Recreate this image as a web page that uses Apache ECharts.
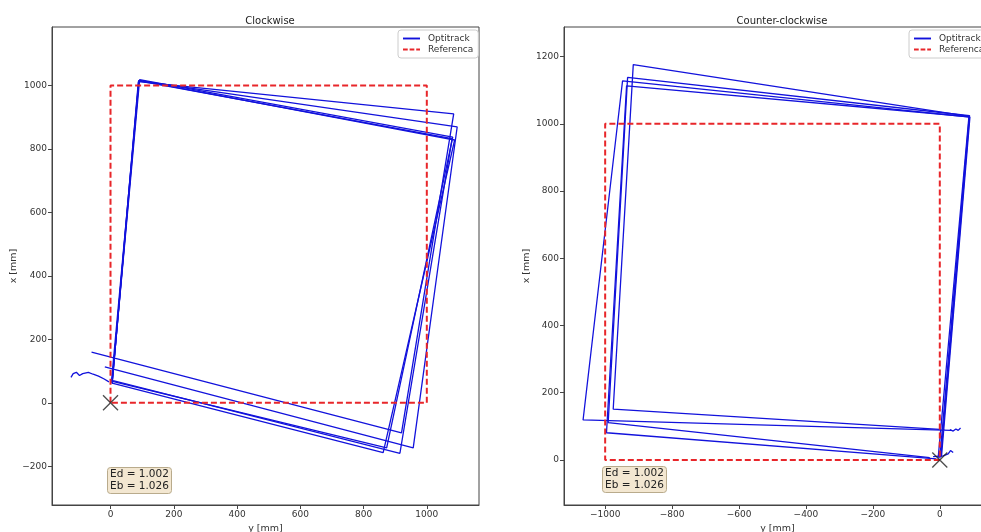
<!DOCTYPE html>
<html>
<head>
<meta charset="utf-8">
<script src="https://cdn.jsdelivr.net/npm/echarts@6/dist/echarts.min.js"></script>
<style>
html, body { margin: 0; padding: 0; background: #fff; }
#chart { width: 981px; height: 532px; }
</style>
</head>
<body>
<div id="chart"></div>
<script>
// points are [y, x] in mm (horizontal = y, vertical = x)
var cwLaps = [
    [[5, 60], [88, 1012], [1085, 910], [920, -95], [-60, 160]],
    [[5, 62], [90, 1015], [1096, 869], [957, -142], [-18, 113]],
    [[5, 65], [92, 1018], [1082, 837], [873, -142], [3, 68]],
    [[3, 68], [90, 1016], [1088, 828], [862, -157], [5, 62]],
    [[5, 62], [89, 1014], [1080, 832], [915, -159], [8, 70]],
    [[-125, 80], [-118, 92], [-108, 96], [-98, 86], [-88, 92], [-70, 96], [-55, 90], [-38, 84], [-20, 75], [-5, 66]]
];
var ccwLaps = [
    [[0, 5], [88, 1022], [-916, 1176], [-976, 151], [0, 91]],
    [[5, 10], [90, 1020], [-948, 1128], [-1066, 119], [35, 88]],
    [[3, 8], [89, 1024], [-933, 1138], [-991, 111], [-30, 7]],
    [[-5, 5], [87, 1021], [-936, 1113], [-996, 81], [-10, 3]],
    [[30, 90], [40, 86], [48, 92], [55, 88], [62, 95]],
    [[-20, 10], [10, 12], [25, 18], [32, 28], [40, 22]]
];
var cwRef = [[0, 0], [0, 1000], [1000, 1000], [1000, 0], [0, 0]];
var ccwRef = [[0, 0], [-1000, 0], [-1000, 1000], [0, 1000], [0, 0]];
var startPoint = [[0, 0]];

var cwXTicks = [0, 200, 400, 600, 800, 1000];
var cwYTicks = [-200, 0, 200, 400, 600, 800, 1000];
var ccwXTicks = [-1000, -800, -600, -400, -200, 0];
var ccwYTicks = [0, 200, 400, 600, 800, 1000, 1200];

var errText = 'Ed = 1.002\nEb = 1.026';

var myChart = echarts.init(document.getElementById('chart'));

function minusFmt(v) {
    return String(v).replace('-', '\u2212');
}

function makeAxis(idx, min, max, ticks, name, isY) {
    return {
        type: 'value',
        gridIndex: idx,
        min: min,
        max: max,
        name: name,
        nameLocation: 'middle',
        nameGap: isY ? 32 : 18,
        nameTextStyle: { color: '#333', fontSize: 9.5, fontFamily: 'DejaVu Sans' },
        axisLine: { show: true, onZero: false, lineStyle: { color: '#444', width: 1 } },
        axisTick: { show: true, length: 4, customValues: ticks, lineStyle: { color: '#444' } },
        axisLabel: {
            show: true,
            margin: 5,
            color: '#333',
            fontSize: 9,
            fontFamily: 'DejaVu Sans',
            customValues: ticks,
            formatter: minusFmt
        },
        splitLine: { show: false }
    };
}

var blue = '#1212dc';
var red = '#e8262a';
var series = [];
function addTrack(laps, idx) {
    for (var i = 0; i < laps.length; i++) {
        series.push({
            name: 'Optitrack',
            type: 'line',
            xAxisIndex: idx,
            yAxisIndex: idx,
            data: laps[i],
            showSymbol: false,
            symbol: 'none',
            z: 2,
            lineStyle: { color: blue, width: 1.3 },
            itemStyle: { color: blue }
        });
    }
}
addTrack(cwLaps, 0);
addTrack(ccwLaps, 1);

[cwRef, ccwRef].forEach(function (ref, idx) {
    series.push({
        name: 'Referenca',
        type: 'line',
        xAxisIndex: idx,
        yAxisIndex: idx,
        data: ref,
        showSymbol: false,
        symbol: 'none',
        z: 3,
        lineStyle: { color: red, width: 2, type: [6, 3] },
        itemStyle: { color: red }
    });
    series.push({
        type: 'scatter',
        xAxisIndex: idx,
        yAxisIndex: idx,
        data: startPoint,
        symbol: 'path://M0,0L10,10M10,0L0,10',
        symbolSize: 15,
        z: 4,
        itemStyle: { color: 'rgba(0,0,0,0)', borderColor: '#222', borderWidth: 1.3 }
    });
});

function legendAt(left) {
    return {
        left: left,
        top: 30,
        orient: 'vertical',
        data: [
            { name: 'Optitrack', icon: 'path://M0,0H18V2H0Z', itemStyle: { color: blue } },
            { name: 'Referenca', icon: 'path://M0,0H5V2H0Z M7,0H12V2H7Z M14,0H18V2H14Z', itemStyle: { color: red } }
        ],
        itemWidth: 17,
        itemHeight: 2,
        itemGap: 2,
        padding: [4, 5],
        backgroundColor: '#fff',
        borderColor: '#ccc',
        borderWidth: 1,
        borderRadius: 3,
        textStyle: { color: '#333', fontSize: 9, fontFamily: 'DejaVu Sans', padding: [0, 0, 0, 3] }
    };
}

function errBox(left, top) {
    return {
        text: errText,
        left: left,
        top: top,
        padding: [2, 3],
        backgroundColor: '#f3e7d1',
        borderColor: '#b9ab8c',
        borderWidth: 1,
        borderRadius: 3,
        textStyle: { color: '#222', fontSize: 10.5, fontWeight: 'normal', lineHeight: 11.5, fontFamily: 'DejaVu Sans' }
    };
}

var titleStyle = { color: '#222', fontSize: 10, fontWeight: 'normal', fontFamily: 'DejaVu Sans' };

option = {
    backgroundColor: '#fff',
    animation: false,
    title: [
        { text: 'Clockwise', left: 265, top: 11, textAlign: 'center', textStyle: titleStyle },
        { text: 'Counter-clockwise', left: 777, top: 11, textAlign: 'center', textStyle: titleStyle },
        errBox(107, 467),
        errBox(602, 466)
    ],
    legend: [legendAt(398), legendAt(909)],
    grid: [
        { left: 52, top: 27, width: 427, height: 478, outerBoundsMode: 'none', containLabel: false,
          show: true, borderColor: '#444', borderWidth: 1, backgroundColor: '#fff' },
        { left: 564, top: 27, width: 427, height: 478, outerBoundsMode: 'none', containLabel: false,
          show: true, borderColor: '#444', borderWidth: 1, backgroundColor: '#fff' }
    ],
    xAxis: [
        makeAxis(0, -185, 1165, cwXTicks, 'y [mm]', false),
        makeAxis(1, -1123, 153, ccwXTicks, 'y [mm]', false)
    ],
    yAxis: [
        makeAxis(0, -322, 1184, cwYTicks, 'x [mm]', true),
        makeAxis(1, -134, 1288, ccwYTicks, 'x [mm]', true)
    ],
    series: series
};
myChart.setOption(option);
</script>
</body>
</html>
